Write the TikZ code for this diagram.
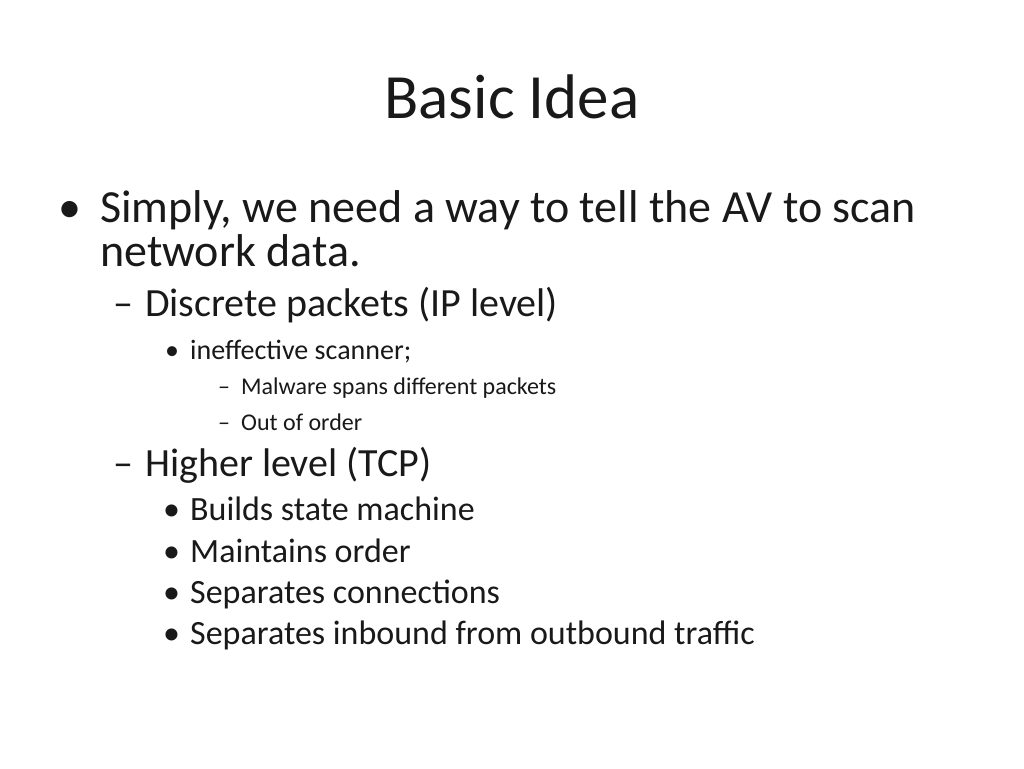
\documentclass[tikz,border=0pt]{standalone}
\usepackage{fontspec}
\setmainfont{Carlito}
\begin{document}
\begin{tikzpicture}[x=1pt,y=-1pt,every node/.style={anchor=base west,inner sep=0pt,text=black!90}]
\useasboundingbox[fill=white] (0,0) rectangle (1024,768);
\tikzset{la/.style={font=\fontsize{46}{46}\selectfont},
lb/.style={font=\fontsize{40}{40}\selectfont},
lc/.style={font=\fontsize{34}{34}\selectfont},
lcs/.style={font=\fontsize{28}{28}\selectfont},
ld/.style={font=\fontsize{24}{24}\selectfont}}
\node[anchor=base,font=\fontsize{63}{63}\selectfont] (t) at (512,118) {Basic Idea};
\node[la] (b1) at (58,222) {•};
\node[la] (s1) at (100,222) {Simply, we need a way to tell the AV to scan};
\node[la] (s2) at (100,266) {network data.};
\node[lb] (d1) at (113,316) {–};
\node[lb] (s3) at (145,316) {Discrete packets (IP level)};
\node[lcs] (b2) at (165,359) {•};
\node[lcs] (s4) at (190,359) {ineffective scanner;};
\node[ld] (d2) at (218,394) {–};
\node[ld] (s5) at (241,394) {Malware spans different packets};
\node[ld] (d3) at (218,430) {–};
\node[ld] (s6) at (241,430) {Out of order};
\node[lb] (d4) at (113,476) {–};
\node[lb] (s7) at (145,476) {Higher level (TCP)};
\foreach \y/\t [count=\i] in {520/Builds state machine,562/Maintains order,603/Separates connections,644/Separates inbound from outbound traffic}{
 \node[lc] (bb\i) at (163,\y) {•};
 \node[lc] (tt\i) at (190,\y) {\t};
}
\end{tikzpicture}
\end{document}
